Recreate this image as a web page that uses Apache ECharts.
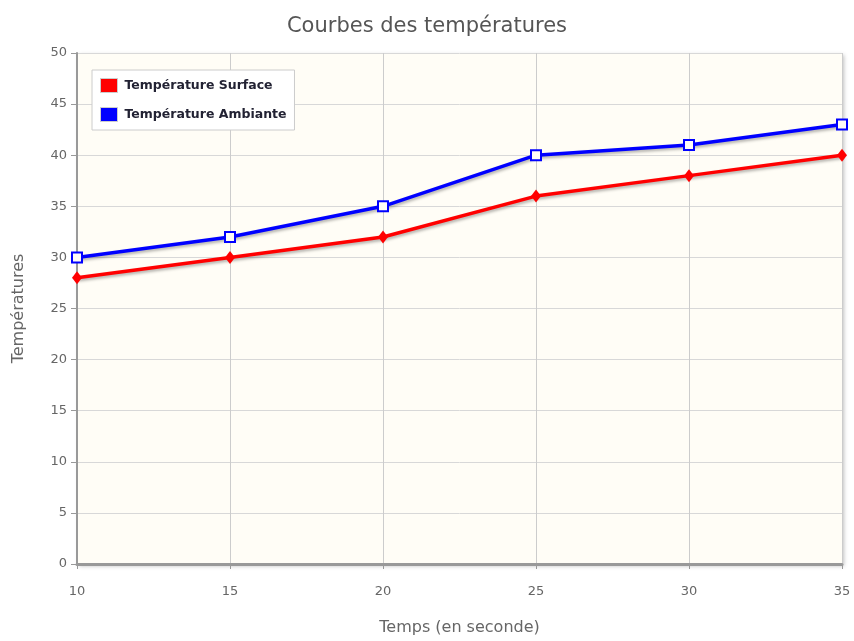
<!DOCTYPE html>
<html>
<head>
<meta charset="utf-8">
<script src="https://cdn.jsdelivr.net/npm/echarts@6/dist/echarts.min.js"></script>
<style>
  html, body { margin: 0; padding: 0; background: #ffffff; }
  #chart { width: 854px; height: 641px; }
</style>
</head>
<body>
<div id="chart"></div>
<script>
// Time in seconds (x) and the two temperature series
const temps = [10, 15, 20, 25, 30, 35];
const surface = [28, 30, 32, 36, 38, 40];
const ambient = [30, 32, 35, 40, 41, 43];
const seriesNames = ['Température Surface', 'Température Ambiante'];
const seriesColors = ['#ff0000', '#0000ff'];

const pairs = (ys) => temps.map((t, i) => [t, ys[i]]);

const chart = echarts.init(document.getElementById('chart'));
const labelFont = 'DejaVu Sans';

chart.setOption({
  backgroundColor: '#ffffff',
  animation: false,
  title: {
    text: 'Courbes des températures',
    left: 'center',
    top: 11,
    textStyle: { fontFamily: labelFont, fontSize: 21, fontWeight: 'normal', color: '#555555' }
  },
  legend: {
    orient: 'vertical',
    left: 92,
    top: 70,
    padding: [8, 8, 8, 8],
    itemGap: 14,
    itemWidth: 17,
    itemHeight: 14,
    icon: 'rect',
    borderColor: '#cccccc',
    borderWidth: 1,
    backgroundColor: '#ffffff',
    textStyle: { fontFamily: labelFont, fontSize: 12.5, fontWeight: 'bold', color: '#222233', padding: [0, 0, 0, 2] },
    data: seriesNames.map((n, i) => ({
      name: n,
      itemStyle: { color: seriesColors[i], borderColor: '#cccccc', borderWidth: 1 }
    }))
  },
  grid: {
    left: 77, right: 12, top: 53, bottom: 74,
    show: true,
    backgroundColor: '#fffdf6',
    borderWidth: 0,
    shadowColor: 'rgba(0,0,0,0.25)',
    shadowBlur: 4,
    shadowOffsetX: 2,
    shadowOffsetY: 2
  },
  xAxis: {
    type: 'value',
    min: 10, max: 35, interval: 5,
    name: 'Temps (en seconde)',
    nameLocation: 'middle',
    nameGap: 56,
    nameTextStyle: { fontFamily: labelFont, fontSize: 16, color: '#666666' },
    axisLine: { show: true, lineStyle: { color: '#999999', width: 3 } },
    axisTick: { show: true, length: 5, lineStyle: { color: '#999999' } },
    axisLabel: { fontFamily: labelFont, fontSize: 13, color: '#666666', margin: 21 },
    splitLine: { show: true, lineStyle: { color: '#cccccc', width: 1 } }
  },
  yAxis: {
    type: 'value',
    min: 0, max: 50, interval: 5,
    name: 'Températures',
    nameLocation: 'middle',
    nameGap: 50,
    nameTextStyle: { fontFamily: labelFont, fontSize: 16, color: '#666666' },
    axisLine: { show: true, lineStyle: { color: '#999999', width: 2 } },
    axisTick: { show: true, length: 6, lineStyle: { color: '#999999' } },
    axisLabel: { fontFamily: labelFont, fontSize: 13, color: '#666666', margin: 10 },
    splitLine: { show: true, lineStyle: { color: '#d8d8d8', width: 1 } }
  },
  series: [
    {
      name: seriesNames[0],
      type: 'line',
      data: pairs(surface),
      symbol: 'diamond',
      symbolSize: [10, 13],
      itemStyle: { color: seriesColors[0] },
      lineStyle: { width: 3.5, color: seriesColors[0], shadowColor: 'rgba(0,0,0,0.3)', shadowBlur: 3, shadowOffsetX: 1, shadowOffsetY: 2 },
      clip: false,
      z: 3
    },
    {
      name: seriesNames[1],
      type: 'line',
      data: pairs(ambient),
      symbol: 'rect',
      symbolSize: 10,
      itemStyle: { color: '#fffdf6', borderColor: seriesColors[1], borderWidth: 2 },
      lineStyle: { width: 3.5, color: seriesColors[1], shadowColor: 'rgba(0,0,0,0.3)', shadowBlur: 3, shadowOffsetX: 1, shadowOffsetY: 2 },
      clip: false,
      z: 4
    }
  ]
});
</script>
</body>
</html>
